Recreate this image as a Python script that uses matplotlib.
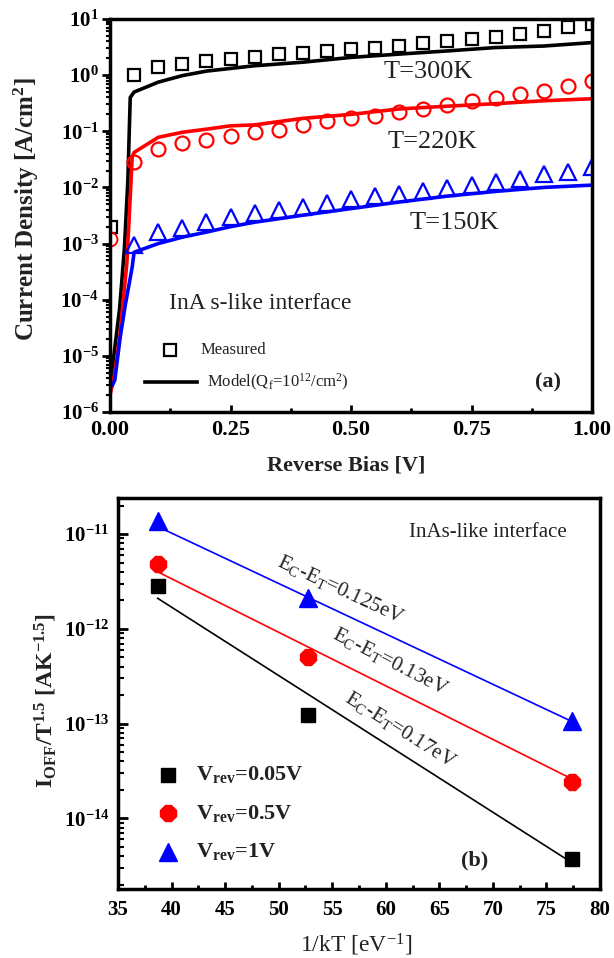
import numpy as np
import matplotlib
matplotlib.use("Agg")
import matplotlib.pyplot as plt
from matplotlib.ticker import FixedLocator, FuncFormatter, NullFormatter, MultipleLocator, LogLocator

plt.rcParams['font.family'] = ['Liberation Serif', 'DejaVu Serif']
plt.rcParams['mathtext.fontset'] = 'custom'
plt.rcParams['mathtext.rm'] = 'Liberation Serif'
plt.rcParams['mathtext.it'] = 'Liberation Serif:italic'
plt.rcParams['mathtext.bf'] = 'Liberation Serif:bold'

# ---------------- Panel (a) data ----------------
bias_meas = [0.05, 0.10, 0.15, 0.20, 0.25, 0.30, 0.35, 0.40, 0.45, 0.50,
             0.55, 0.60, 0.65, 0.70, 0.75, 0.80, 0.85, 0.90, 0.95, 1.00]
J300_meas = [1.0, 1.4, 1.6, 1.8, 1.9, 2.1, 2.4, 2.5, 2.7, 2.9,
             3.1, 3.3, 3.7, 4.0, 4.4, 4.7, 5.5, 6.2, 7.1, 8.1]
J220_meas = [0.028, 0.048, 0.063, 0.071, 0.082, 0.096, 0.107, 0.13, 0.15, 0.17,
             0.19, 0.22, 0.25, 0.29, 0.34, 0.39, 0.46, 0.52, 0.63, 0.79]
J150_meas = [9.6e-4, 1.6e-3, 1.9e-3, 2.4e-3, 3.0e-3, 3.5e-3, 3.9e-3, 4.5e-3, 5.2e-3, 6.1e-3,
             7.0e-3, 7.5e-3, 8.5e-3, 9.7e-3, 1.1e-2, 1.25e-2, 1.4e-2, 1.7e-2, 1.9e-2, 2.3e-2]
# extra low-bias measured points
J300_meas0 = (0.003, 1.95e-3)
J220_meas0 = (0.0, 1.2e-3)

bias300_mod = [0.0, 0.01, 0.02, 0.03, 0.037, 0.042, 0.05, 0.10, 0.15, 0.20, 0.30, 0.40,
               0.50, 0.60, 0.70, 0.80, 0.90, 1.00]
J300_mod = [2.8e-6, 1.4e-5, 7.0e-5, 8.5e-4, 1.3e-2, 0.40, 0.50, 0.75, 0.98, 1.18, 1.47, 1.7,
            2.07, 2.37, 2.7, 3.1, 3.3, 3.8]
bias220_mod = [0.0, 0.01, 0.02, 0.035, 0.043, 0.046, 0.05, 0.10, 0.15, 0.20, 0.25, 0.30, 0.40,
               0.50, 0.60, 0.70, 0.80, 0.90, 1.00]
J220_mod = [2.0e-6, 5.0e-6, 2.1e-5, 4.5e-4, 1.0e-2, 0.035, 0.042, 0.078, 0.096, 0.109, 0.125, 0.13,
            0.17, 0.20, 0.25, 0.28, 0.31, 0.35, 0.38]
bias150_mod = [0.005, 0.01, 0.021, 0.031, 0.046, 0.05, 0.10, 0.15, 0.20, 0.25, 0.30, 0.40,
               0.50, 0.60, 0.70, 0.80, 0.90, 1.00]
J150_mod = [3.0e-6, 3.7e-6, 2.1e-5, 7.4e-5, 3.8e-4, 7.0e-4, 1.0e-3, 1.3e-3, 1.6e-3, 2.0e-3, 2.4e-3, 3.2e-3,
            4.2e-3, 5.5e-3, 7.0e-3, 8.5e-3, 1.0e-2, 1.1e-2]

xticks_a = [0.00, 0.25, 0.50, 0.75, 1.00]
yticks_a = [1e1, 1e0, 1e-1, 1e-2, 1e-3, 1e-4, 1e-5, 1e-6]

# ---------------- Panel (b) data ----------------
inv_kT = [38.7, 52.75, 77.4]
I_005 = [2.8e-12, 1.23e-13, 3.7e-15]
I_05 = [4.8e-12, 5.0e-13, 2.45e-14]
I_1 = [1.38e-11, 2.1e-12, 1.07e-13]
fit_x = [38.7, 77.4]
fit_005 = [2.1e-12, 3.4e-15]
fit_05 = [4.0e-12, 2.6e-14]
fit_1 = [1.2e-11, 1.05e-13]
xticks_b = [35, 40, 45, 50, 55, 60, 65, 70, 75, 80]
yticks_b = [1e-11, 1e-12, 1e-13, 1e-14]

W, H = 614, 958
fig = plt.figure(figsize=(W / 100, H / 100), dpi=100)


def px_axes(l, r, t, b):
    return fig.add_axes([l / W, 1 - b / H, (r - l) / W, (b - t) / H])


def sci_bold(v, pos):
    e = int(round(np.log10(v)))
    return r'$\mathbf{10^{%d}}$' % e


TXT = '#222222'

# ================= Panel (a) =================
ax = px_axes(110, 592, 19, 412)
ax.set_yscale('log')
ax.set_xlim(0, 1.0)
ax.set_ylim(1e-6, 1e1)

ax.plot(bias300_mod, J300_mod, color='black', lw=2.6)
ax.plot(bias220_mod, J220_mod, color='#ff0000', lw=2.6)
ax.plot(bias150_mod, J150_mod, color='#0000ff', lw=2.6)

ax.plot(bias_meas, J300_meas, ls='none', marker='s', ms=9, mfc='none', mec='black', mew=1.6)
ax.plot(bias_meas, J220_meas, ls='none', marker='o', ms=10, mfc='none', mec='#ff0000', mew=1.6)
ax.plot(bias_meas, J150_meas, ls='none', marker='^', ms=11, mfc='none', mec='#0000ff', mew=1.6)
ax.plot([J300_meas0[0]], [J300_meas0[1]], ls='none', marker='s', ms=9, mfc='none', mec='black', mew=1.6)
ax.plot([J220_meas0[0]], [J220_meas0[1]], ls='none', marker='o', ms=10, mfc='none', mec='#ff0000', mew=1.4)

ax.xaxis.set_major_locator(FixedLocator(xticks_a))
ax.xaxis.set_major_formatter(FuncFormatter(lambda v, p: '%.2f' % v))
ax.xaxis.set_minor_locator(MultipleLocator(0.125))
ax.yaxis.set_major_locator(FixedLocator(yticks_a))
ax.yaxis.set_major_formatter(FuncFormatter(sci_bold))
ax.yaxis.set_minor_locator(LogLocator(base=10, subs=np.arange(2, 10), numticks=20))
ax.yaxis.set_minor_formatter(NullFormatter())
ax.tick_params(axis='x', which='major', direction='in', length=5, width=2, labelsize=16, pad=6)
ax.tick_params(axis='x', which='minor', direction='in', length=3, width=2)
ax.tick_params(axis='y', which='major', direction='out', length=6, width=2, labelsize=15, pad=2)
ax.tick_params(axis='y', which='minor', direction='out', length=3, width=1.5)
for lab in ax.get_xticklabels():
    lab.set_fontweight('bold')
for s in ax.spines.values():
    s.set_linewidth(2.5)

ax.set_xlabel('Reverse Bias [V]', fontsize=16, fontweight='bold', color=TXT)
ax.xaxis.label.set_va('center')
ax.xaxis.set_label_coords(0.49, -0.135)
ax.set_ylabel(r'Current Density [A/cm$^{\mathbf{2}}$]', fontsize=18, fontweight='bold', color=TXT)
ax.yaxis.set_label_coords(-0.143, 0.517)

ax.text(0.66, 0.865, 'T=300K', transform=ax.transAxes, fontsize=19, ha='center', va='center', color=TXT)
ax.text(0.668, 0.687, 'T=220K', transform=ax.transAxes, fontsize=19, ha='center', va='center', color=TXT)
ax.text(0.714, 0.481, 'T=150K', transform=ax.transAxes, fontsize=19, ha='center', va='center', color=TXT)
ax.text(0.311, 0.277, 'InA s-like interface', transform=ax.transAxes, fontsize=17, ha='center', va='center', color=TXT)

ax.plot([0.124], [0.158], transform=ax.transAxes, marker='s', ms=9, mfc='none', mec='black', mew=1.6, ls='none')
ax.text(0.187, 0.158, 'Measured', transform=ax.transAxes, fontsize=12, ha='left', va='center', color=TXT)
ax.plot([0.073, 0.18], [0.076, 0.076], transform=ax.transAxes, color='black', lw=2.6)
ax.text(0.201, 0.076, r'Model(Q$_{\mathrm{f}}$=10$^{12}$/cm$^{2}$)', transform=ax.transAxes, fontsize=12,
        ha='left', va='center', color=TXT)
ax.text(0.909, 0.076, '(a)', transform=ax.transAxes, fontsize=16, fontweight='bold', ha='center', va='center', color=TXT)

# ================= Panel (b) =================
bx = px_axes(118, 600, 498, 889)
bx.set_yscale('log')
bx.set_xlim(35, 80)
bx.set_ylim(1.8e-15, 2.4e-11)

bx.plot(fit_x, fit_005, color='black', lw=1.2)
bx.plot(fit_x, fit_05, color='#ff0000', lw=1.2)
bx.plot(fit_x, fit_1, color='#0000ff', lw=1.2)
bx.plot(inv_kT, I_005, ls='none', marker='s', ms=10, color='black')
bx.plot(inv_kT, I_05, ls='none', marker='8', ms=12, color='#ff0000')
bx.plot(inv_kT, I_1, ls='none', marker='^', ms=13, color='#0000ff')

bx.xaxis.set_major_locator(FixedLocator(xticks_b))
bx.xaxis.set_minor_locator(MultipleLocator(2.5))
bx.yaxis.set_major_locator(FixedLocator(yticks_b))
bx.yaxis.set_major_formatter(FuncFormatter(sci_bold))
bx.yaxis.set_minor_locator(LogLocator(base=10, subs=np.arange(2, 10), numticks=20))
bx.yaxis.set_minor_formatter(NullFormatter())
bx.tick_params(axis='x', which='major', direction='in', length=5, width=2, labelsize=15, pad=8)
bx.tick_params(axis='x', which='minor', direction='in', length=3, width=2)
bx.tick_params(axis='y', which='major', direction='in', length=7, width=2, labelsize=15, pad=6)
bx.tick_params(axis='y', which='minor', direction='in', length=4, width=1.5)
for lab in bx.get_xticklabels():
    lab.set_fontweight('bold')
for s in bx.spines.values():
    s.set_linewidth(2.5)

bx.set_xlabel(r'1/kT [eV$^{-1}$]', fontsize=17, color=TXT)
bx.xaxis.label.set_va('center')
bx.xaxis.set_label_coords(0.494, -0.143)
bx.set_ylabel(r'$\mathbf{I_{OFF}/T^{1.5}}$ [AK$^{\mathbf{-1.5}}$]', fontsize=17, fontweight='bold', color=TXT)
bx.yaxis.set_label_coords(-0.122, 0.483)

bx.text(0.768, 0.913, 'InAs-like interface', transform=bx.transAxes, fontsize=15, ha='center', va='center', color=TXT)
bx.text(0.461, 0.765, r'E$_{\mathrm{C}}$-E$_{\mathrm{T}}$=0.125eV', transform=bx.transAxes, fontsize=15, rotation=-25,
        ha='center', va='center', rotation_mode='anchor', color=TXT)
bx.text(0.564, 0.581, r'E$_{\mathrm{C}}$-E$_{\mathrm{T}}$=0.13eV', transform=bx.transAxes, fontsize=15, rotation=-27,
        ha='center', va='center', rotation_mode='anchor', color=TXT)
bx.text(0.585, 0.407, r'E$_{\mathrm{C}}$-E$_{\mathrm{T}}$=0.17eV', transform=bx.transAxes, fontsize=15, rotation=-32,
        ha='center', va='center', rotation_mode='anchor', color=TXT)

leg_y = [0.292, 0.194, 0.095]
leg_m = [('s', 10, 'black', '0.05V'), ('8', 12, '#ff0000', '0.5V'), ('^', 13, '#0000ff', '1V')]
for yy, (m, ms, c, lab) in zip(leg_y, leg_m):
    bx.plot([0.104], [yy], transform=bx.transAxes, marker=m, ms=ms, color=c, ls='none')
    bx.text(0.162, yy, r'$\mathbf{V_{rev}}$=' + lab, transform=bx.transAxes, fontsize=16,
            fontweight='bold', ha='left', va='center', color=TXT)
bx.text(0.739, 0.074, '(b)', transform=bx.transAxes, fontsize=16, fontweight='bold', ha='center', va='center', color=TXT)

fig.savefig('out.png', dpi=100)
